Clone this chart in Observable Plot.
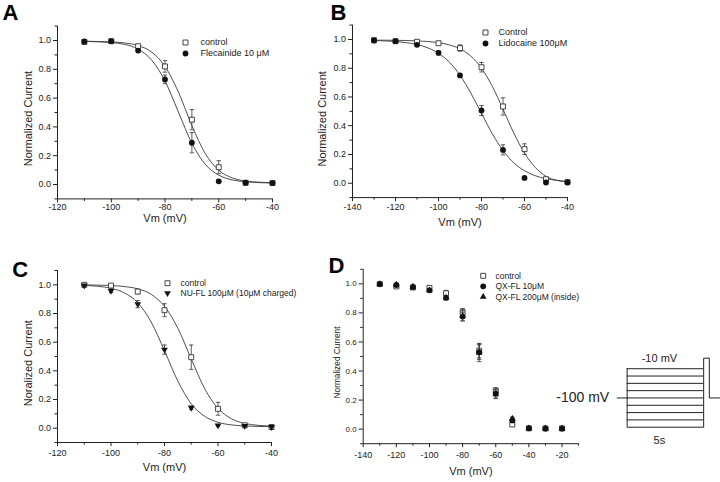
<!DOCTYPE html>
<html>
<head>
<meta charset="utf-8">
<script src="https://cdn.jsdelivr.net/npm/d3@7"></script>
<script src="https://cdn.jsdelivr.net/npm/@observablehq/plot@0.6"></script>
<style>
  html, body { margin: 0; padding: 0; background: #fff; }
  #wrap { position: relative; width: 720px; height: 482px; overflow: hidden; background: #fff; }
  #wrap svg { position: absolute; }
</style>
</head>
<body>
<div id="wrap"></div>
<script>
// ---------- Panel A ----------
const voltsA = [-110, -100, -90, -80, -70, -60, -50, -40];
const controlA = [0.99, 0.995, 0.96, 0.82, 0.45, 0.12, 0.012, 0.01];
const controlAErr = [0, 0, 0.008, 0.04, 0.07, 0.045, 0, 0];
const flecA = [0.993, 0.995, 0.93, 0.73, 0.29, 0.022, 0.012, 0.01];
const flecAErr = [0.005, 0.005, 0.01, 0.03, 0.07, 0.008, 0, 0];
const fitVoltsA = [-110, -105, -100, -95, -90, -85, -80, -75, -70, -65, -60, -55, -50, -45, -40];
const controlFitA = [0.995, 0.993, 0.99, 0.983, 0.965, 0.92, 0.821, 0.641, 0.409, 0.214, 0.099, 0.046, 0.024, 0.016, 0.012];
const flecFitA = [0.994, 0.991, 0.986, 0.973, 0.94, 0.865, 0.719, 0.503, 0.286, 0.14, 0.065, 0.032, 0.019, 0.013, 0.011];
const legendA = ["control", "Flecainide 10 μM"];

// ---------- Panel B ----------
const voltsB = [-130, -120, -110, -100, -90, -80, -70, -60, -50, -40];
const controlB = [0.995, 0.988, 0.984, 0.974, 0.94, 0.807, 0.534, 0.237, 0.028, 0.008];
const controlBErr = [0, 0, 0, 0.005, 0.022, 0.033, 0.06, 0.037, 0.005, 0];
const lidoB = [0.993, 0.988, 0.963, 0.907, 0.75, 0.506, 0.232, 0.037, 0.005, 0.005];
const lidoBErr = [0.005, 0, 0.008, 0.015, 0.012, 0.035, 0.035, 0, 0, 0];
const fitVoltsB = [-130, -125, -120, -115, -110, -105, -100, -95, -90, -85, -80, -75, -70, -65, -60, -55, -50, -45, -40];
const controlFitB = [0.995, 0.995, 0.994, 0.993, 0.99, 0.986, 0.978, 0.962, 0.935, 0.885, 0.80, 0.675, 0.515, 0.35, 0.21, 0.11, 0.048, 0.02, 0.01];
const lidoFitB = [0.992, 0.99, 0.986, 0.978, 0.965, 0.942, 0.904, 0.843, 0.751, 0.628, 0.486, 0.345, 0.228, 0.142, 0.087, 0.052, 0.032, 0.02, 0.013];
const legendB = ["Control", "Lidocaine 100μM"];

// ---------- Panel C ----------
const voltsC = [-110, -100, -90, -80, -70, -60, -50, -40];
const controlC = [1.0, 0.995, 0.953, 0.823, 0.495, 0.135, 0.02, 0.008];
const controlCErr = [0, 0.005, 0.015, 0.045, 0.085, 0.045, 0.005, 0];
const nuflC = [0.995, 0.958, 0.865, 0.548, 0.142, 0.019, 0.016, 0.008];
const nuflCErr = [0.005, 0.012, 0.025, 0.032, 0.012, 0.006, 0.005, 0];
const fitVoltsC = [-110, -105, -100, -95, -90, -85, -80, -75, -70, -65, -60, -55, -50, -45, -40];
const controlFitC = [0.999, 0.998, 0.995, 0.988, 0.972, 0.934, 0.85, 0.697, 0.483, 0.276, 0.138, 0.066, 0.033, 0.02, 0.014];
const nuflFitC = [0.996, 0.99, 0.976, 0.944, 0.875, 0.741, 0.54, 0.328, 0.17, 0.083, 0.041, 0.023, 0.015, 0.012, 0.011];
const legendC = ["control", "NU-FL 100μM (10μM charged)"];

// ---------- Panel D ----------
const voltsD = [-130, -120, -110, -100, -90, -80, -70, -60, -50, -40, -30, -20];
const controlD = [0.998, 0.982, 0.975, 0.972, 0.935, 0.805, 0.54, 0.265, 0.032, 0.006, 0.005, 0.005];
const controlDErr = [0, 0.01, 0.008, 0.008, 0.02, 0.025, 0.05, 0.02, 0.005, 0, 0, 0];
const qx10D = [0.998, 0.992, 0.978, 0.955, 0.903, 0.775, 0.53, 0.245, 0.06, 0.006, 0.004, 0.004];
const qx10DErr = [0, 0.005, 0.01, 0.01, 0.01, 0.03, 0.05, 0.03, 0.012, 0, 0, 0];
const qx200D = [0.998, 0.995, 0.98, 0.955, 0.905, 0.78, 0.525, 0.24, 0.072, 0.006, 0.005, 0.005];
const qx200DErr = [0, 0.005, 0.01, 0.01, 0.01, 0.035, 0.06, 0.03, 0.012, 0, 0, 0];
const legendD = ["control", "QX-FL 10μM", "QX-FL 200μM (inside)"];

// ---------- Protocol (panel D inset, schematic) ----------
const protoLevels = [4, 3, 2, 1, 0, -1, -2, -3, -4];      // pre-pulse levels, holding = 0
const protoPulseLevel = 5.44;                               // test pulse level
const protoTimes = [-0.65, 0, 5, 5.37, 6.1];                // hold, step start, step end (5 s), pulse end, trace end
const protoLabels = ["-100 mV", "-10 mV", "5s"];

// ---------- shared axis ticks ----------
const yDomain = [-0.1, 1.1];
const yMajor = [0, 0.2, 0.4, 0.6, 0.8, 1.0];
const yMinor = [-0.1, 0.1, 0.3, 0.5, 0.7, 0.9, 1.1];
const xLabel = "Vm (mV)";

const INK = "#222";
const capSymbol = { draw(ctx, size) { const w = Math.sqrt(size) / 2; ctx.moveTo(-w, 0); ctx.lineTo(w, 0); } };
const STY = {
  square: { symbol: "square", fill: "white", stroke: "#333", strokeWidth: 0.9, r: 2.8 },
  circle: { symbol: "circle", fill: "#111", stroke: "none", r: 2.9 },
  triDown: { symbol: "triangle", rotate: 180, fill: "#111", stroke: "none", r: 2.5 },
  triUp: { symbol: "triangle", fill: "#111", stroke: "none", r: 2.5 }
};
const FONT = "'Liberation Sans', Arial, Helvetica, sans-serif";

function makePanel(cfg) {
  const marks = [];
  // axis lines
  marks.push(Plot.ruleX([cfg.xDomain[0]], { stroke: INK, strokeWidth: 1 }));
  marks.push(Plot.ruleY([yDomain[0]], { stroke: INK, strokeWidth: 1 }));
  // ticks
  marks.push(Plot.axisY(yMajor, { tickSize: 4, tickPadding: 2.5, tickFormat: d => d.toFixed(1), fontSize: cfg.yTickFont, label: null, stroke: INK }));
  marks.push(Plot.axisY(yMinor, { tickSize: 2.5, fill: "none", label: null, stroke: INK }));
  marks.push(Plot.axisX(cfg.xMajor, { tickSize: 4, tickPadding: cfg.xTickPad, tickFormat: d => String(d), fontSize: 9, label: null, stroke: INK }));
  marks.push(Plot.axisX(cfg.xMinor, { tickSize: 2.5, fill: "none", label: null, stroke: INK }));
  // axis titles
  marks.push(Plot.text([xLabel], { frameAnchor: "bottom", dy: cfg.xLabelDy, text: d => d, textAnchor: "middle", lineAnchor: "middle", fontSize: 11, fill: INK }));
  marks.push(Plot.text([cfg.yLabel], { frameAnchor: "left", dx: cfg.yLabelDx, dy: cfg.yLabelDy, rotate: -90, text: d => d, textAnchor: "middle", lineAnchor: "middle", fontSize: cfg.yLabelSize, fill: INK }));
  // panel letter
  marks.push(Plot.text([cfg.letter], { frameAnchor: "top-left", dx: cfg.letterDx, dy: cfg.letterDy, text: d => d, textAnchor: "start", lineAnchor: "bottom", fontSize: 22, fontWeight: "bold", fill: "#000" }));
  // fits
  (cfg.fits || []).forEach(f => {
    const rows = f.map((y, i) => ({ v: cfg.fitVolts[i], y }));
    marks.push(Plot.line(rows, { x: "v", y: "y", curve: "monotone-x", stroke: "#3a3a3a", strokeWidth: 0.9 }));
  });
  // data
  cfg.series.forEach(s => {
    const rows = s.values.map((y, i) => ({ v: cfg.volts[i], y, e: s.errs[i] }));
    const we = rows.filter(d => d.e > 0);
    marks.push(Plot.ruleX(we, { x: "v", y1: d => d.y - d.e, y2: d => d.y + d.e, stroke: "#333", strokeWidth: 0.8 }));
    marks.push(Plot.dot(we, { x: "v", y: d => d.y + d.e, symbol: capSymbol, r: 2.5, fill: "none", stroke: "#333", strokeWidth: 0.8 }));
    marks.push(Plot.dot(we, { x: "v", y: d => d.y - d.e, symbol: capSymbol, r: 2.5, fill: "none", stroke: "#333", strokeWidth: 0.8 }));
    marks.push(Plot.dot(rows, { x: "v", y: "y", ...s.style }));
  });
  // legend
  cfg.series.forEach((s, i) => {
    const dy = cfg.legend.dy + i * cfg.legend.gap;
    marks.push(Plot.dot([s.label], { frameAnchor: "top-left", dx: cfg.legend.dotDx, dy, ...s.style }));
    marks.push(Plot.text([s.label], { frameAnchor: "top-left", dx: cfg.legend.textDx, dy, text: d => d, textAnchor: "start", lineAnchor: "middle", fontSize: cfg.legend.fontSize, fill: INK }));
  });
  const svg = Plot.plot({
    width: cfg.width, height: cfg.height,
    marginLeft: cfg.ml, marginRight: cfg.mr, marginTop: cfg.mt, marginBottom: cfg.mb,
    x: { domain: cfg.xDomain },
    y: { domain: yDomain },
    style: { background: "transparent", overflow: "visible", fontFamily: FONT, color: INK, maxWidth: "none" },
    marks
  });
  svg.style.left = cfg.left + "px";
  svg.style.top = cfg.top + "px";
  return svg;
}

const wrap = document.getElementById("wrap");

wrap.appendChild(makePanel({
  left: 0, top: 0, width: 360, height: 241, ml: 57, mr: 88, mt: 25.6, mb: 42.6,
  xDomain: [-120, -40], xMajor: [-120, -100, -80, -60, -40], xMinor: [-110, -90, -70, -50],
  xTickPad: 1, yTickFont: 9, xLabelDy: 19.5, yLabel: "Normalized Current", yLabelSize: 11, yLabelDx: -29, yLabelDy: 6,
  letter: "A", letterDx: -55, letterDy: -6.3,
  volts: voltsA, fitVolts: fitVoltsA, fits: [controlFitA, flecFitA],
  series: [
    { values: controlA, errs: controlAErr, style: STY.square, label: legendA[0] },
    { values: flecA, errs: flecAErr, style: STY.circle, label: legendA[1] }
  ],
  legend: { dotDx: 128, textDx: 143, dy: 16.4, gap: 11, fontSize: 9 }
}));

wrap.appendChild(makePanel({
  left: 280, top: 0, width: 440, height: 241, ml: 72, mr: 153, mt: 24.6, mb: 43.9,
  xDomain: [-140, -40], xMajor: [-140, -120, -100, -80, -60, -40], xMinor: [-130, -110, -90, -70, -50],
  xTickPad: 2, yTickFont: 9, xLabelDy: 25, yLabel: "Normalized Current", yLabelSize: 11, yLabelDx: -30, yLabelDy: 7.5,
  letter: "B", letterDx: -22, letterDy: -5.6,
  volts: voltsB, fitVolts: fitVoltsB, fits: [controlFitB, lidoFitB],
  series: [
    { values: controlB, errs: controlBErr, style: STY.square, label: legendB[0] },
    { values: lidoB, errs: lidoBErr, style: STY.circle, label: legendB[1] }
  ],
  legend: { dotDx: 133, textDx: 146, dy: 7.4, gap: 11, fontSize: 9 }
}));

wrap.appendChild(makePanel({
  left: 0, top: 241, width: 360, height: 241, ml: 57, mr: 89, mt: 29, mb: 40,
  xDomain: [-120, -40], xMajor: [-120, -100, -80, -60, -40], xMinor: [-110, -90, -70, -50],
  xTickPad: 3, yTickFont: 9, xLabelDy: 24.5, yLabel: "Noralized Current", yLabelSize: 11, yLabelDx: -28.7, yLabelDy: 6.7,
  letter: "C", letterDx: -45.3, letterDy: 6,
  volts: voltsC, fitVolts: fitVoltsC, fits: [controlFitC, nuflFitC],
  series: [
    { values: controlC, errs: controlCErr, style: STY.square, label: legendC[0] },
    { values: nuflC, errs: nuflCErr, style: STY.triDown, label: legendC[1] }
  ],
  legend: { dotDx: 110, textDx: 123, dy: 12.7, gap: 10, fontSize: 8.5 }
}));

wrap.appendChild(makePanel({
  left: 280, top: 241, width: 440, height: 241, ml: 82.7, mr: 141.9, mt: 27.8, mb: 38.8,
  xDomain: [-140, -10], xMajor: [-140, -120, -100, -80, -60, -40, -20], xMinor: [-130, -110, -90, -70, -50, -30, -10],
  xTickPad: 3.5, yTickFont: 8, xLabelDy: 27.8, yLabel: "Normalized Current", yLabelSize: 8.3, yLabelDx: -26, yLabelDy: 6,
  letter: "D", letterDx: -34.7, letterDy: 3.7,
  volts: voltsD, fits: [],
  series: [
    { values: controlD, errs: controlDErr, style: STY.square, label: legendD[0] },
    { values: qx10D, errs: qx10DErr, style: STY.circle, label: legendD[1] },
    { values: qx200D, errs: qx200DErr, style: STY.triUp, label: legendD[2] }
  ],
  legend: { dotDx: 120, textDx: 132.3, dy: 6.5, gap: 10.5, fontSize: 8.5 }
}));

// protocol inset
(function () {
  const lo = d3.min(protoLevels), hi = d3.max(protoLevels);
  const mid = (protoTimes[1] + protoTimes[2]) / 2;
  const holdTrace = [{ t: protoTimes[0], v: 0 }, { t: protoTimes[1], v: 0 }];
  const testTrace = [
    { t: protoTimes[2], v: lo }, { t: protoTimes[2], v: protoPulseLevel },
    { t: protoTimes[3], v: protoPulseLevel }, { t: protoTimes[3], v: 0 }, { t: protoTimes[4], v: 0 }
  ];
  const svg = Plot.plot({
    width: 165, height: 105, marginLeft: 61.7, marginRight: 0, marginTop: 12.7, marginBottom: 23.3,
    x: { domain: [protoTimes[0], protoTimes[4]], axis: null },
    y: { domain: [lo, protoPulseLevel], axis: null },
    style: { background: "transparent", overflow: "visible", fontFamily: FONT, color: INK, maxWidth: "none" },
    marks: [
      Plot.ruleY(protoLevels, { y: d => d, x1: protoTimes[1], x2: protoTimes[2], stroke: INK, strokeWidth: 1 }),
      Plot.ruleX([protoTimes[1]], { y1: lo, y2: hi, stroke: INK, strokeWidth: 1 }),
      Plot.line(holdTrace, { x: "t", y: "v", stroke: INK, strokeWidth: 1 }),
      Plot.line(testTrace, { x: "t", y: "v", stroke: INK, strokeWidth: 1 }),
      Plot.text([protoLabels[0]], { x: protoTimes[0], y: 0, dx: -8, text: d => d, textAnchor: "end", fontSize: 14, fill: INK }),
      Plot.text([protoLabels[1]], { x: mid, y: protoPulseLevel, dx: -6, text: d => d, fontSize: 11, fill: INK }),
      Plot.text([protoLabels[2]], { x: mid, y: lo, dx: -6, dy: 13, text: d => d, fontSize: 11, fill: INK })
    ]
  });
  svg.style.left = "555px";
  svg.style.top = "345px";
  wrap.appendChild(svg);
})();
</script>
</body>
</html>
